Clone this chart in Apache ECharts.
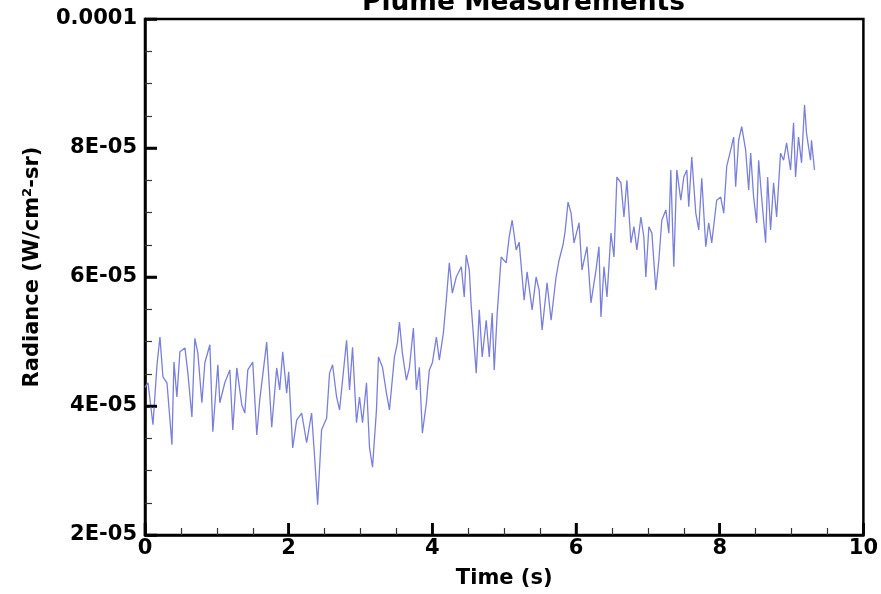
<!DOCTYPE html>
<html>
<head>
<meta charset="utf-8">
<title>Plume Measurements</title>
<script src="https://cdn.jsdelivr.net/npm/echarts@6/dist/echarts.min.js"></script>
<style>
  html, body { margin: 0; padding: 0; background: #fff; }
  #chart { width: 881px; height: 594px; }
</style>
</head>
<body>
<div id="chart"></div>
<script>
// Sample times (s)
const timeS = [
  0.000, 0.042, 0.111, 0.167, 0.208, 0.250, 0.306, 0.375, 0.403, 0.444,
  0.486, 0.556, 0.597, 0.653, 0.694, 0.736, 0.792, 0.833, 0.903, 0.944,
  1.014, 1.042, 1.111, 1.181, 1.222, 1.278, 1.347, 1.389, 1.431, 1.500,
  1.556, 1.597, 1.694, 1.764, 1.833, 1.875, 1.917, 1.972, 2.000, 2.056,
  2.111, 2.181, 2.250, 2.319, 2.361, 2.403, 2.458, 2.528, 2.569, 2.611,
  2.667, 2.708, 2.750, 2.806, 2.847, 2.889, 2.944, 2.986, 3.028, 3.083,
  3.125, 3.167, 3.222, 3.250, 3.306, 3.361, 3.403, 3.472, 3.514, 3.542,
  3.583, 3.639, 3.681, 3.736, 3.778, 3.819, 3.861, 3.917, 3.958, 4.000,
  4.056, 4.097, 4.153, 4.194, 4.236, 4.278, 4.333, 4.403, 4.444, 4.472,
  4.514, 4.542, 4.611, 4.653, 4.694, 4.750, 4.792, 4.833, 4.861, 4.903,
  4.958, 5.028, 5.069, 5.111, 5.167, 5.208, 5.278, 5.319, 5.389, 5.444,
  5.486, 5.528, 5.597, 5.653, 5.722, 5.764, 5.819, 5.847, 5.889, 5.931,
  5.972, 6.042, 6.083, 6.153, 6.208, 6.278, 6.319, 6.347, 6.389, 6.431,
  6.486, 6.528, 6.569, 6.625, 6.667, 6.708, 6.764, 6.806, 6.847, 6.903,
  6.944, 6.972, 7.014, 7.056, 7.111, 7.153, 7.194, 7.250, 7.292, 7.319,
  7.361, 7.403, 7.458, 7.500, 7.542, 7.569, 7.611, 7.667, 7.708, 7.750,
  7.806, 7.847, 7.889, 7.958, 8.014, 8.056, 8.097, 8.153, 8.194, 8.222,
  8.264, 8.306, 8.361, 8.403, 8.431, 8.472, 8.514, 8.542, 8.583, 8.639,
  8.667, 8.708, 8.750, 8.792, 8.847, 8.889, 8.931, 8.986, 9.028, 9.056,
  9.097, 9.139, 9.181, 9.208, 9.264, 9.278, 9.319
];

// Radiance, in units of 1E-05 W/cm²-sr
const radianceE5 = [
  4.29, 4.36, 3.71, 4.64, 5.07, 4.45, 4.36, 3.40, 4.68, 4.14,
  4.84, 4.90, 4.51, 3.83, 5.05, 4.82, 4.05, 4.67, 4.95, 3.60,
  4.64, 4.05, 4.36, 4.56, 3.63, 4.59, 4.02, 3.89, 4.56, 4.68,
  3.55, 4.09, 4.99, 3.67, 4.59, 4.25, 4.84, 4.20, 4.53, 3.35,
  3.78, 3.89, 3.43, 3.89, 3.21, 2.47, 3.63, 3.81, 4.51, 4.64,
  4.14, 3.94, 4.40, 5.02, 4.25, 4.91, 3.74, 4.14, 3.74, 4.36,
  3.36, 3.05, 3.94, 4.76, 4.60, 4.20, 3.94, 4.76, 4.98, 5.30,
  4.82, 4.40, 4.60, 5.21, 4.25, 4.60, 3.58, 4.05, 4.56, 4.67,
  5.07, 4.71, 5.13, 5.64, 6.22, 5.75, 6.00, 6.16, 5.69, 6.34,
  6.11, 5.53, 4.51, 5.49, 4.76, 5.33, 4.76, 5.44, 4.56, 5.44,
  6.31, 6.22, 6.62, 6.88, 6.42, 6.54, 5.64, 6.08, 5.49, 6.00,
  5.80, 5.18, 5.91, 5.33, 6.00, 6.26, 6.50, 6.70, 7.16, 6.99,
  6.53, 6.84, 6.11, 6.47, 5.60, 6.11, 6.47, 5.38, 6.16, 5.69,
  6.68, 6.31, 7.55, 7.46, 6.93, 7.50, 6.53, 6.78, 6.42, 6.93,
  6.62, 6.00, 6.78, 6.68, 5.80, 6.26, 6.88, 7.04, 6.68, 7.66,
  6.16, 7.66, 7.19, 7.55, 7.66, 7.09, 7.86, 6.99, 6.73, 7.53,
  6.47, 6.84, 6.53, 7.19, 7.24, 6.99, 7.71, 7.97, 8.17, 7.40,
  8.12, 8.33, 7.97, 7.35, 7.92, 7.24, 6.84, 7.81, 7.24, 6.53,
  7.55, 6.73, 7.46, 6.93, 7.92, 7.81, 8.08, 7.66, 8.39, 7.55,
  8.17, 7.77, 8.67, 8.23, 7.81, 8.12, 7.66
];

// Axis ticks (y in units of 1E-05)
const xTicks = [0, 2, 4, 6, 8, 10];
const yTicks = [2, 4, 6, 8, 10];
const yTickLabels = ['2E-05', '4E-05', '6E-05', '8E-05', '0.0001'];

const seriesData = timeS.map((t, i) => [t, radianceE5[i]]);

const FONT = '"DejaVu Sans", "Liberation Sans", Arial, sans-serif';
const MAJOR_TICK_LEN = 12;
const chart = echarts.init(document.getElementById('chart'), null, { renderer: 'canvas' });

const labelFont = { fontFamily: FONT, fontWeight: 'bold', fontSize: 21, color: '#000' };

function axisCommon() {
  return {
    axisLine: { onZero: false, lineStyle: { color: '#000', width: 2.5 } },
    axisTick: { show: true, inside: true, length: MAJOR_TICK_LEN, lineStyle: { color: '#000', width: 2.5 } },
    minorTick: { show: true, splitNumber: 4, length: 7, lineStyle: { color: '#333', width: 1.2 } },
    splitLine: { show: false },
    minorSplitLine: { show: false }
  };
}

// Bold inward major tick marks, placed with the axis scales
function tickSeries(values, horizontal) {
  return {
    type: 'custom',
    silent: true,
    clip: false,
    z: 5,
    data: values,
    renderItem: (params, api) => {
      const p = api.coord([api.value(0), api.value(1)]);
      return {
        type: 'line',
        shape: horizontal
          ? { x1: p[0], y1: p[1], x2: p[0] + MAJOR_TICK_LEN, y2: p[1] }
          : { x1: p[0], y1: p[1], x2: p[0], y2: p[1] - MAJOR_TICK_LEN },
        style: { stroke: '#000', lineWidth: 2.5 }
      };
    }
  };
}

chart.setOption({
  animation: false,
  backgroundColor: '#ffffff',
  title: {
    text: 'Plume Measurements',
    left: 362,
    top: -10,
    padding: 0,
    textStyle: { fontFamily: FONT, fontWeight: 'bold', fontSize: 26.5, color: '#000' }
  },
  grid: {
    left: 145, right: 16, top: 19, bottom: 59,
    show: true, borderColor: '#000', borderWidth: 2.5
  },
  xAxis: Object.assign(axisCommon(), {
    type: 'value',
    min: xTicks[0],
    max: xTicks[xTicks.length - 1],
    interval: xTicks[1] - xTicks[0],
    name: 'Time (s)',
    nameLocation: 'middle',
    nameGap: 33,
    nameTextStyle: labelFont,
    axisLabel: Object.assign({ margin: 3 }, labelFont)
  }),
  yAxis: Object.assign(axisCommon(), {
    type: 'value',
    min: yTicks[0],
    max: yTicks[yTicks.length - 1],
    interval: yTicks[1] - yTicks[0],
    name: 'Radiance (W/cm²-sr)',
    nameLocation: 'middle',
    nameGap: 102,
    nameTextStyle: Object.assign({ padding: [0, 0, 0, 20] }, labelFont),
    axisLabel: Object.assign({
      margin: 8,
      formatter: v => yTickLabels[yTicks.indexOf(Math.round(v))]
    }, labelFont)
  }),
  series: [
    {
      type: 'line',
      data: seriesData,
      showSymbol: false,
      smooth: false,
      lineStyle: { color: '#7a7fdb', width: 1.3 },
      emphasis: { disabled: true }
    },
    tickSeries(yTicks.map(v => [xTicks[0], v]), true),
    tickSeries(xTicks.map(t => [t, yTicks[0]]), false)
  ]
});
</script>
</body>
</html>
